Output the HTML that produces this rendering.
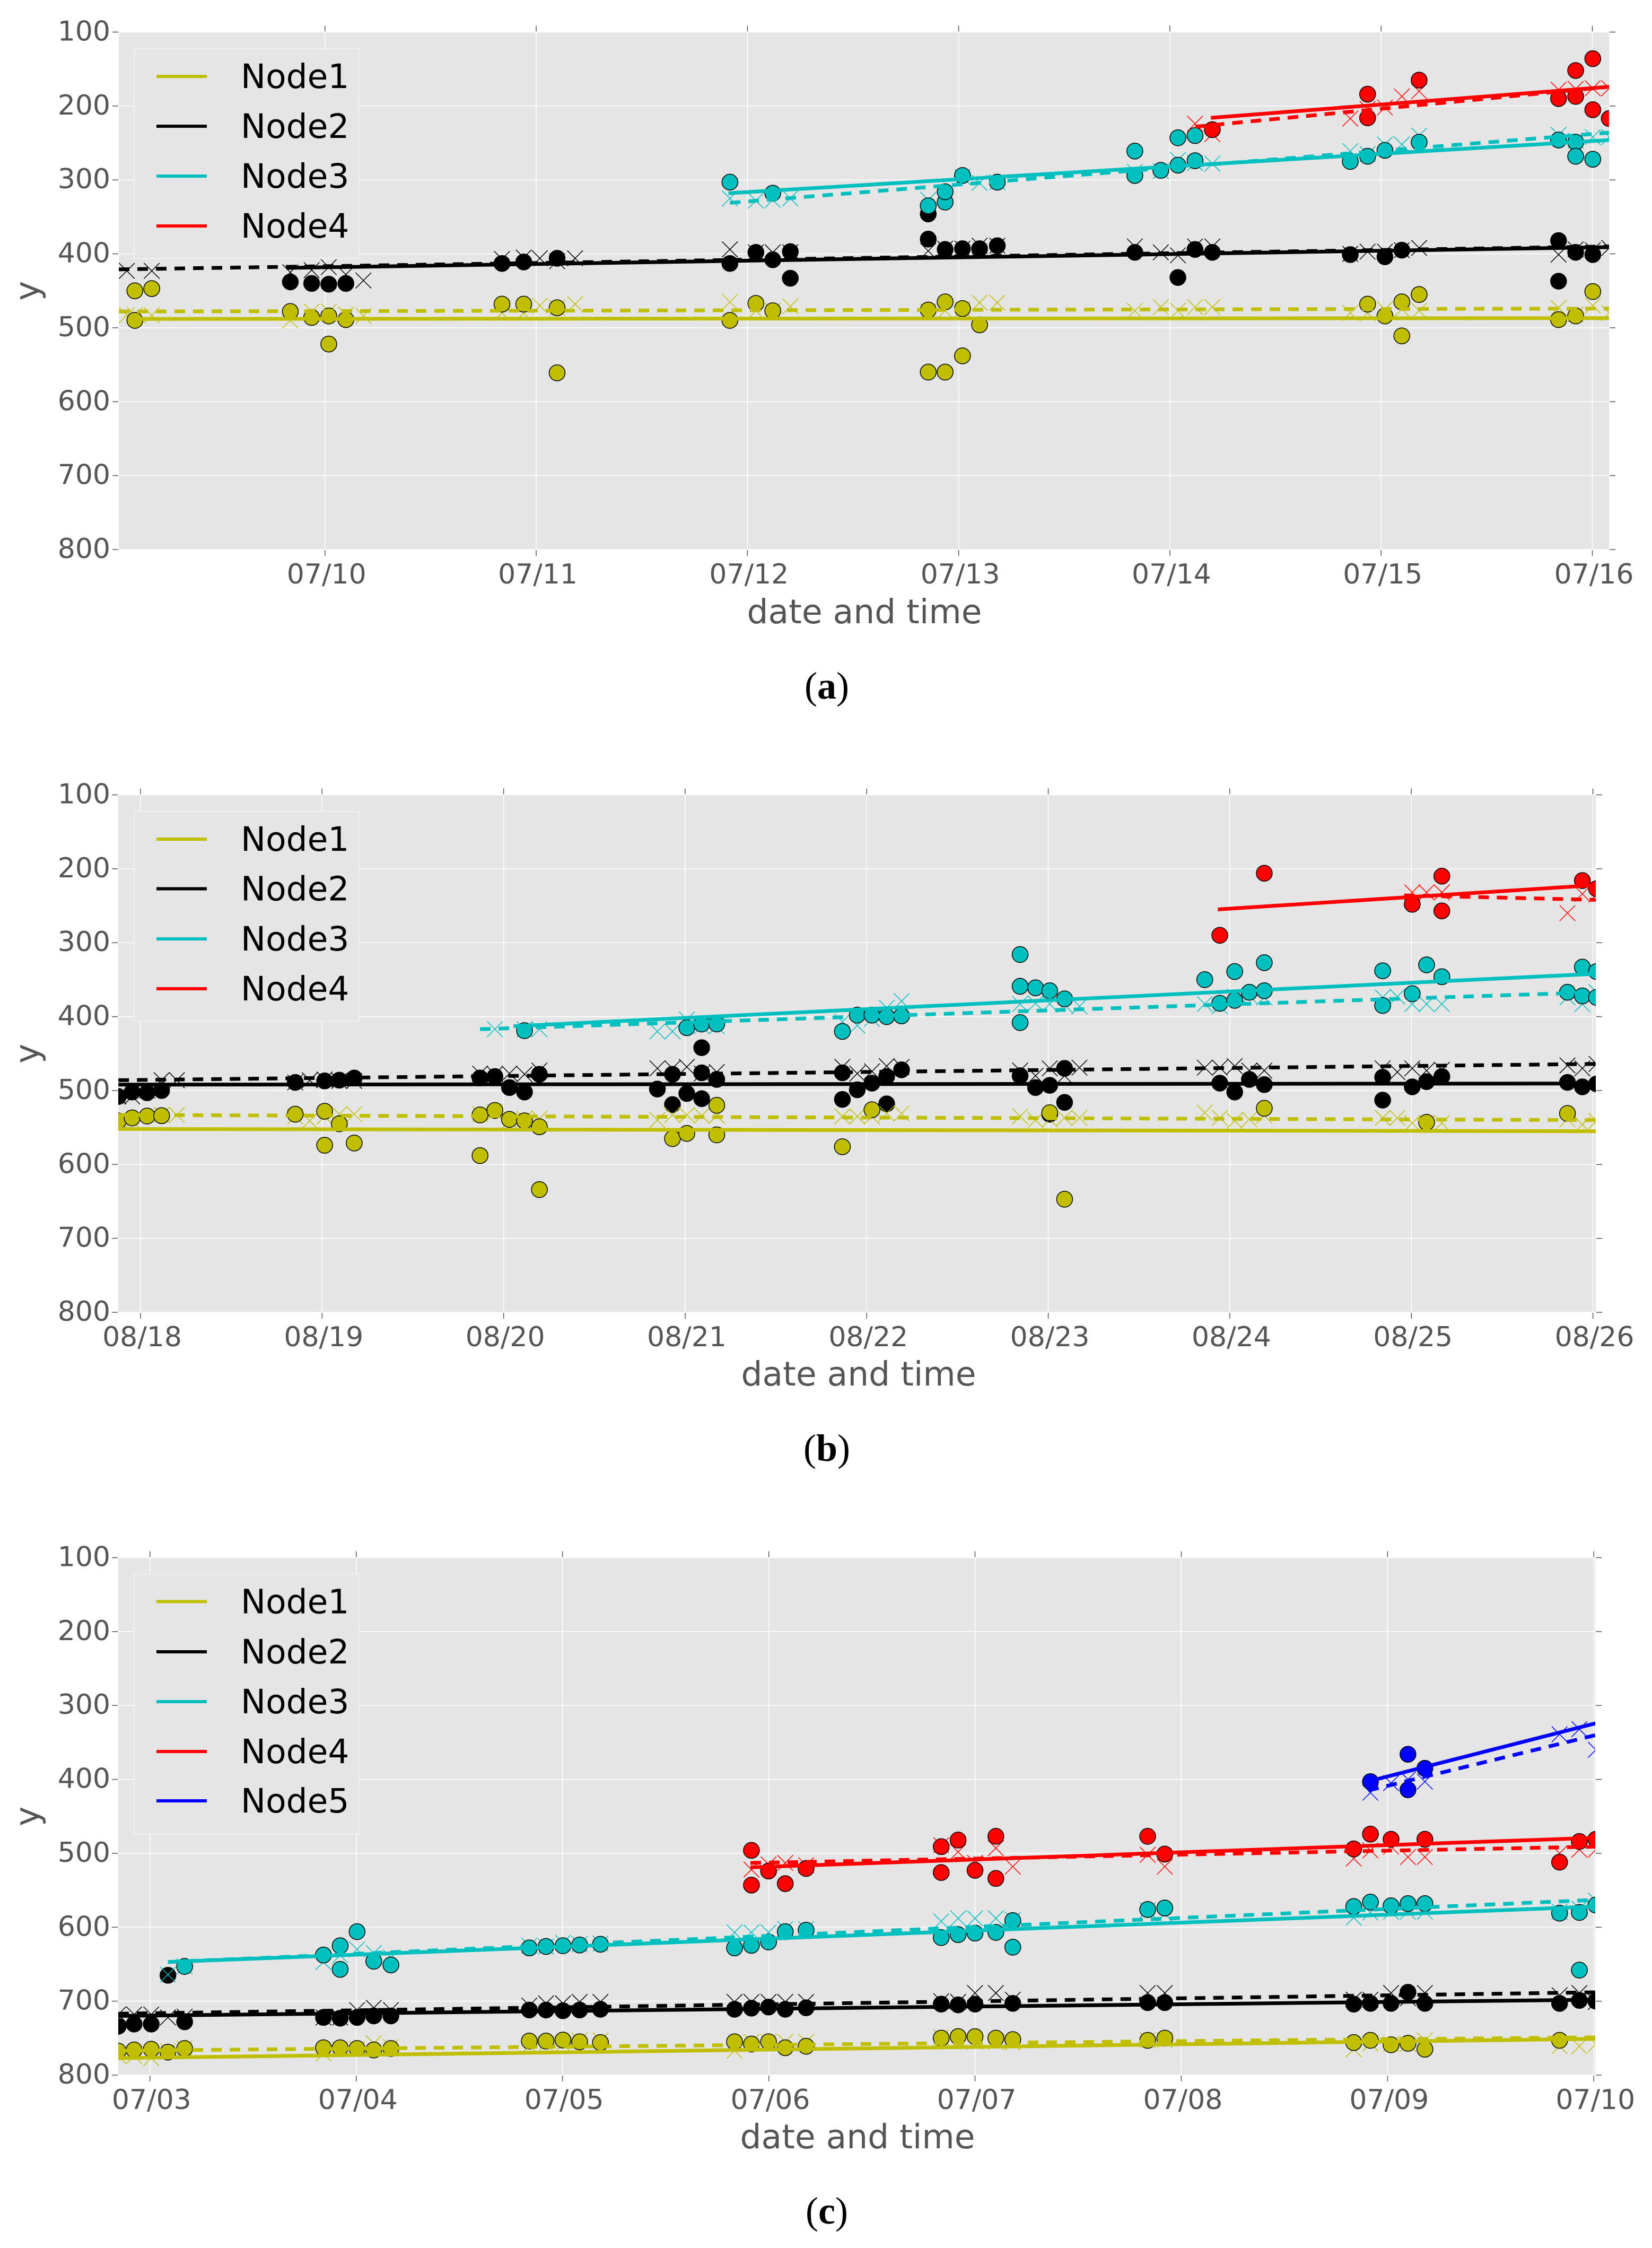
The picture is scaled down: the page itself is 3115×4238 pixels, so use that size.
<!DOCTYPE html>
<html lang="en">
<head>
<meta charset="utf-8">
<title>Node fits over time, panels a, b and c</title>
<style>
html,body{margin:0;padding:0;background:#fff}
svg{display:block}
text{font-family:"DejaVu Sans",sans-serif}
.caption{font-family:"Liberation Serif",serif;font-size:72px;fill:#000}
</style>
</head>
<body>
<svg id="figure" xmlns="http://www.w3.org/2000/svg" width="3115" height="4238" viewBox="0 0 3115 4238"></svg>
<script>
// Shared axis values
const yTickValues=[100,200,300,400,500,600,700,800];
const nodeLabels=['Node1','Node2','Node3','Node4','Node5'];
const xAxisTitle='date and time';
const yAxisTitle='y';

// Panel (a): x is in days after 07/10
const aDateLabels=['07/10','07/11','07/12','07/13','07/14','07/15','07/16'];
const aNode1Circles=[[-.9,450],[-.9,490],[-.82,447],[-.164,478],[-.063,486],[.018,484],[.018,522],[.099,489],[.838,468],[.941,468],[1.099,473],[1.099,561],[1.917,490],[2.04,467],[2.12,477],[2.856,476],[2.856,560],[2.936,465],[2.936,560],[3.018,474],[3.018,538],[3.099,496],[4.936,468],[5.018,484],[5.098,465],[5.098,511],[5.18,455],[5.84,489],[5.921,484],[6.002,451]];
const aNode1Crosses=[[-.938,483],[-.9,483],[-.82,483],[-.164,490],[-.063,478],[.018,478],[.099,482],[.182,484],[.838,480],[.941,480],[1.017,470],[1.099,473],[1.184,468],[1.917,465],[2.04,477],[2.12,477],[2.203,471],[2.856,478],[2.936,477],[3.018,475],[3.099,466],[3.183,466],[3.834,477],[3.957,472],[4.038,477],[4.119,472],[4.201,472],[4.854,480],[4.936,480],[5.018,475],[5.098,475],[5.18,477],[5.84,473],[5.921,482],[6.002,470],[6.08,480]];
const aNode2Circles=[[-.164,438],[-.063,440],[.018,441],[.099,440],[.838,413],[.941,411],[1.099,406],[1.917,413],[2.04,398],[2.12,408],[2.203,397],[2.203,433],[2.856,346],[2.856,380],[2.936,394],[3.018,393],[3.099,393],[3.183,389],[3.834,398],[4.038,432],[4.119,394],[4.201,398],[4.854,401],[5.018,404],[5.098,395],[5.84,382],[5.84,437],[5.921,398],[6.002,401]];
const aNode2Crosses=[[-.938,423],[-.82,423],[-.164,425],[-.063,422],[.018,418],[.099,428],[.182,436],[.838,407],[.941,405],[1.017,406],[1.099,410],[1.184,406],[1.917,394],[2.04,398],[2.12,398],[2.203,398],[2.856,396],[2.936,393],[3.018,393],[3.099,389],[3.183,389],[3.834,390],[3.957,398],[4.038,402],[4.119,390],[4.201,390],[4.854,400],[4.936,397],[5.018,397],[5.098,395],[5.18,392],[5.84,401],[5.921,394],[6.002,395],[6.08,392]];
const aNode3Circles=[[1.917,303],[2.12,318],[2.856,335],[2.936,330],[2.936,316],[3.018,294],[3.183,303],[3.834,261],[3.834,294],[3.957,287],[4.038,243],[4.038,280],[4.119,240],[4.119,274],[4.854,275],[4.936,268],[5.018,260],[5.18,249],[5.84,246],[5.921,249],[5.921,268],[6.002,272]];
const aNode3Crosses=[[1.917,325],[2.04,328],[2.12,327],[2.203,325],[2.856,327],[3.018,296],[3.099,304],[3.183,303],[3.834,289],[3.957,288],[4.038,273],[4.119,277],[4.201,278],[4.854,261],[4.936,265],[5.018,252],[5.098,252],[5.18,240],[5.84,239],[5.921,247],[6.002,242],[6.08,242]];
const aNode4Circles=[[4.201,232],[4.936,184],[4.936,216],[5.18,165],[5.84,190],[5.921,152],[5.921,187],[6.002,136],[6.002,205],[6.08,217]];
const aNode4Crosses=[[4.119,224],[4.201,238],[4.854,217],[4.936,204],[5.018,202],[5.098,187],[5.18,180],[5.84,178],[5.921,177],[6.002,176],[6.08,176]];
const aNode1Solid=[[-.885,488],[6.08,487]];
const aNode1Dashed=[[-.976,478],[6.08,474]];
const aNode2Solid=[[-.182,419],[6.08,391]];
const aNode2Dashed=[[-.976,421],[6.08,390]];
const aNode3Solid=[[1.91,318],[6.08,246]];
const aNode3Dashed=[[1.917,331],[6.08,236]];
const aNode4Solid=[[4.194,216],[6.08,174]];
const aNode4Dashed=[[4.12,228],[6.08,174]];

// Panel (b): x is in days after 08/18
const bDateLabels=['08/18','08/19','08/20','08/21','08/22','08/23','08/24','08/25','08/26'];
const bNode1Circles=[[-.122,541],[-.046,537],[.036,534.5],[.116,534],[.852,532],[1.014,528],[1.014,574],[1.095,545],[1.177,571],[1.87,533],[1.87,588],[1.952,527],[2.032,539],[2.115,541],[2.197,549],[2.197,634],[2.93,565],[3.009,558],[3.174,520],[3.174,560],[3.866,576],[4.029,526],[5.008,530],[5.09,647],[6.19,524],[7.084,543],[7.86,531]];
const bNode1Crosses=[[-.122,541],[-.046,541],[.116,533],[.2,533],[.852,535],[.932,541],[1.014,535],[1.095,532],[1.177,532],[1.87,532],[1.952,529],[2.032,541],[2.115,538],[2.197,538],[2.847,540],[2.93,533],[3.009,533],[3.091,534],[3.174,534],[3.866,535],[3.948,535],[4.029,535],[4.11,531],[4.192,531],[4.845,535],[4.93,540],[5.008,539],[5.09,537],[5.172,537],[5.862,530],[5.945,537],[6.027,541],[6.108,539],[6.19,534],[6.842,537],[6.923,537],[7.005,544],[7.084,544],[7.168,544],[7.86,539],[7.942,546],[8.02,541]];
const bNode2Circles=[[-.122,508],[-.046,502],[.036,503],[.116,500],[.852,489],[1.014,487],[1.095,486],[1.177,483],[1.87,483],[1.952,481],[2.032,496],[2.115,502],[2.197,478],[2.847,498],[2.93,478],[2.93,519],[3.009,504],[3.091,442],[3.091,476],[3.091,511],[3.174,485],[3.866,476],[3.866,512],[3.948,499],[4.029,490],[4.11,481],[4.11,518],[4.192,472],[4.845,480],[4.93,496],[5.008,493],[5.008,532],[5.09,470],[5.09,516],[5.945,490],[6.027,502],[6.108,485],[6.19,492],[6.842,482],[6.842,513],[7.005,495],[7.084,488],[7.168,481],[7.86,489],[7.942,495],[8.02,491]];
const bNode2Crosses=[[-.122,508],[-.046,508],[.036,500],[.116,486],[.2,486],[.852,489],[.932,486],[1.014,485],[1.095,487],[1.177,487],[1.87,477],[1.952,478],[2.032,477],[2.115,478],[2.197,473],[2.847,470],[2.93,470],[3.009,468],[3.091,477],[3.174,475],[3.866,468],[3.948,477],[4.029,474],[4.11,467],[4.192,468],[4.845,473],[4.93,480],[5.008,470],[5.09,480],[5.172,469],[5.862,469],[5.945,469],[6.027,467],[6.108,473],[6.19,473],[6.842,470],[6.923,475],[7.005,470],[7.084,473],[7.168,472],[7.86,466],[7.942,470],[8.02,464]];
const bNode3Circles=[[2.115,419],[3.009,415],[3.091,410],[3.174,410],[3.866,420],[3.948,398],[4.029,398],[4.11,400],[4.192,399],[4.845,316],[4.845,359],[4.845,408],[4.93,361],[5.008,365],[5.09,376],[5.862,350],[5.945,382],[6.027,339],[6.027,378],[6.108,367],[6.19,327],[6.19,365],[6.842,338],[6.842,385],[7.005,369],[7.084,330],[7.168,346],[7.86,367],[7.942,372],[7.942,333],[8.02,339],[8.02,374]];
const bNode3Crosses=[[1.952,417],[2.115,417],[2.197,417],[2.847,420],[2.93,420],[3.009,404],[3.091,413],[3.174,413],[3.866,407],[3.948,412],[4.029,403],[4.11,388],[4.192,379],[4.845,383],[4.93,382],[5.008,383],[5.09,384],[5.172,386],[5.862,383],[5.945,386],[6.027,373],[6.108,372],[6.19,374],[6.842,374],[6.923,373],[7.005,383],[7.084,383],[7.168,383],[7.86,374],[7.942,383],[8.02,367]];
const bNode4Circles=[[5.945,290],[6.19,206],[7.005,248],[7.168,210],[7.168,257],[7.942,216],[8.02,227]];
const bNode4Crosses=[[7.005,232],[7.084,232],[7.168,232],[7.86,260],[7.942,234],[8.02,235]];
const bNode1Solid=[[-.122,552],[8.02,555]];
const bNode1Dashed=[[-.122,533],[8.02,540]];
const bNode2Solid=[[-.122,492],[8.02,490.5]];
const bNode2Dashed=[[-.122,486],[8.02,464]];
const bNode3Solid=[[2.055,413],[8.02,342]];
const bNode3Dashed=[[1.87,417],[8.02,367]];
const bNode4Solid=[[5.934,255],[8.02,222]];
const bNode4Dashed=[[6.96,236],[8.02,242]];

// Panel (c): x is in days after 07/03
const cDateLabels=['07/03','07/04','07/05','07/06','07/07','07/08','07/09','07/10'];
const cNode1Circles=[[-.154,767.5],[-.077,766],[.006,765],[.087,769],[.168,764],[.841,763],[.922,763],[1.004,764],[1.085,766],[1.168,764],[1.839,754],[1.92,754],[2.002,752.6],[2.083,755],[2.184,756],[2.834,755],[2.916,758],[2.999,755],[3.08,763],[3.181,761],[3.836,750],[3.918,748],[4,748],[4.101,750],[4.183,752],[4.837,753],[4.92,750],[5.836,756],[5.917,753],[6.017,759],[6.099,757],[6.181,765],[6.834,753]];
const cNode1Crosses=[[-.154,774],[-.077,774],[.006,777],[.087,768],[.168,764],[.841,771],[.922,765],[1.004,765],[1.085,757],[1.168,762],[1.839,760],[1.92,758],[2.002,758],[2.083,753],[2.184,753],[2.834,767],[2.916,755],[2.999,755],[3.08,755],[3.181,755],[3.836,749],[3.918,753],[4,755],[4.101,755],[4.183,756],[4.837,753],[4.92,753],[5.836,765],[5.917,757],[6.017,758],[6.099,758],[6.181,753],[6.834,761],[6.93,761],[7.01,758]];
const cNode2Circles=[[-.154,734],[-.077,731],[.006,731],[.087,665],[.168,728],[.841,722],[.922,723],[1.004,722],[1.085,720],[1.168,720],[1.839,712],[1.92,712],[2.002,713],[2.083,712],[2.184,711],[2.834,711],[2.916,709.5],[2.999,708],[3.08,711],[3.181,709],[3.836,704],[3.918,705],[4,704],[4.183,703],[4.837,702],[4.92,702],[5.836,704],[5.917,703],[6.017,703],[6.099,688],[6.181,703],[6.834,703],[6.93,699],[7.01,700]];
const cNode2Crosses=[[-.154,718],[-.077,718],[.006,718],[.087,722],[.168,721],[.841,722],[.922,722],[1.004,712],[1.085,709],[1.168,712],[1.839,706],[1.92,703],[2.002,703],[2.083,701],[2.184,701],[2.834,701],[2.916,701],[2.999,701],[3.08,701],[3.181,701],[3.836,700],[3.918,701],[4,689],[4.101,689],[4.183,698],[4.837,689],[4.92,689],[5.836,698],[5.917,698],[6.017,689],[6.099,696],[6.181,689],[6.834,692],[6.93,689],[7.01,701]];
const cNode3Circles=[[.168,653],[.841,637.6],[.922,625],[.922,657],[1.004,606],[1.085,646],[1.168,651],[1.839,628],[1.92,626],[2.002,625],[2.083,624],[2.184,623],[2.834,628],[2.916,624.5],[2.999,620],[3.08,606],[3.181,604],[3.836,614],[3.918,610],[4,608],[4.101,607],[4.183,591],[4.183,627],[4.837,576],[4.92,574],[5.836,572],[5.917,566],[6.017,571],[6.099,568],[6.181,568],[6.834,581],[6.93,580],[6.93,658],[7.01,570]];
const cNode3Crosses=[[.087,664],[.168,653],[.841,647],[.922,638],[1.004,630],[1.085,635],[1.168,641],[1.839,625],[1.92,626],[2.002,621],[2.083,623],[2.184,622],[2.834,607],[2.916,607],[2.999,607],[3.08,602.5],[3.181,602.5],[3.836,592],[3.918,588],[4,588],[4.101,588],[4.183,590],[4.837,577],[4.92,582],[5.836,587],[5.917,580],[6.017,579],[6.099,579],[6.181,579],[6.834,579],[6.93,575],[7.01,564]];
const cNode4Circles=[[2.916,496],[2.916,543],[2.999,524],[3.08,541],[3.181,520.5],[3.836,491],[3.836,526],[3.918,482],[4,523],[4.101,477],[4.101,534],[4.837,477],[4.92,501],[5.836,494],[5.917,474],[6.017,481],[6.181,481],[6.834,512],[6.93,484],[7.01,481]];
const cNode4Crosses=[[2.916,522],[2.999,515],[3.08,513],[3.181,516],[3.836,489],[3.918,498],[4,513],[4.101,493],[4.183,518],[4.837,502],[4.92,518],[5.836,507],[5.917,496],[6.017,491],[6.099,505],[6.181,505],[6.834,500],[6.93,495],[7.01,495]];
const cNode5Circles=[[5.917,403],[6.099,366],[6.099,414],[6.181,385]];
const cNode5Crosses=[[5.917,418],[6.017,405],[6.099,400],[6.181,403],[6.834,339],[6.93,332],[7.01,360]];
const cNode1Solid=[[-.154,777],[7.01,751]];
const cNode1Dashed=[[-.154,767],[7.01,749]];
const cNode2Solid=[[-.154,720],[7.01,698]];
const cNode2Dashed=[[-.154,717],[7.01,688]];
const cNode3Solid=[[.087,647],[7.01,572]];
const cNode3Dashed=[[.087,647],[7.01,563]];
const cNode4Solid=[[2.911,519],[7.01,479]];
const cNode4Dashed=[[2.911,513],[7.01,491]];
const cNode5Solid=[[5.93,401],[7.01,324]];
const cNode5Dashed=[[5.907,415],[7.01,340]];

const SVG_NS='http://www.w3.org/2000/svg';
const figure=document.getElementById('figure');
const nodeColors=['#bfbf00','#000000','#00bfbf','#ff0000','#0000ff'];

function make(tag,attrs,parent){
  const el=document.createElementNS(SVG_NS,tag);
  for(const k in attrs){el.setAttribute(k,attrs[k]);}
  (parent||figure).appendChild(el);
  return el;
}

const panels=[
 {id:'a',left:224,right:3034,top:60.5,bottom:1036,xMin:-.976,xMax:6.079,labelDx:3,dates:aDateLabels,
  xTitleX:1630,xTitleY:1175,capX:1559,capY:1317,cap:'a',
  legend:{x0:253,x1:677,y0:92,y1:487,rows:[144,238,332,426]},
  markers:[{n:1,c:aNode2Circles,x:aNode2Crosses},{n:0,c:aNode1Circles,x:aNode1Crosses},{n:2,c:aNode3Circles,x:aNode3Crosses},{n:3,c:aNode4Circles,x:aNode4Crosses}],
  fits:[{n:0,s:aNode1Solid,d:aNode1Dashed},{n:1,s:aNode2Solid,d:aNode2Dashed},{n:2,s:aNode3Solid,d:aNode3Dashed},{n:3,s:aNode4Solid,d:aNode4Dashed}]},
 {id:'b',left:223,right:3009,top:1498.5,bottom:2474,xMin:-.1227,xMax:8.016,labelDx:3,dates:bDateLabels,
  xTitleX:1619,xTitleY:2612,capX:1559,capY:2754,cap:'b',
  legend:{x0:253,x1:677,y0:1530,y1:1925,rows:[1582,1675.5,1770,1864]},
  markers:[{n:1,c:bNode2Circles,x:bNode2Crosses},{n:0,c:bNode1Circles,x:bNode1Crosses},{n:2,c:bNode3Circles,x:bNode3Crosses},{n:3,c:bNode4Circles,x:bNode4Crosses}],
  fits:[{n:0,s:bNode1Solid,d:bNode1Dashed},{n:1,s:bNode2Solid,d:bNode2Dashed},{n:2,s:bNode3Solid,d:bNode3Dashed},{n:3,s:bNode4Solid,d:bNode4Dashed}]},
 {id:'c',left:223,right:3008,top:2936.5,bottom:3912,xMin:-.1538,xMax:7.007,labelDx:3,dates:cDateLabels,
  xTitleX:1617,xTitleY:4050,capX:1559,capY:4192,cap:'c',
  legend:{x0:253,x1:677,y0:2967.5,y1:3457,rows:[3019.4,3114,3208,3302,3395]},
  markers:[{n:1,c:cNode2Circles,x:cNode2Crosses},{n:0,c:cNode1Circles,x:cNode1Crosses},{n:2,c:cNode3Circles,x:cNode3Crosses},{n:3,c:cNode4Circles,x:cNode4Crosses},{n:4,c:cNode5Circles,x:cNode5Crosses}],
  fits:[{n:0,s:cNode1Solid,d:cNode1Dashed},{n:1,s:cNode2Solid,d:cNode2Dashed},{n:2,s:cNode3Solid,d:cNode3Dashed},{n:3,s:cNode4Solid,d:cNode4Dashed},{n:4,s:cNode5Solid,d:cNode5Dashed}]}
];

function drawPanel(p){
  const xScale=d=>p.left+(d-p.xMin)/(p.xMax-p.xMin)*(p.right-p.left);
  const yScale=v=>p.top+(v-100)/700*(p.bottom-p.top);

  const g=make('g',{});
  
  

  const defs=make('defs',{},g);
  const clip=make('clipPath',{id:'clip-'+p.id},defs);
  make('rect',{x:p.left,y:p.top,width:p.right-p.left,height:p.bottom-p.top},clip);

  const bg=make('rect',{x:p.left,y:p.top,width:p.right-p.left,height:p.bottom-p.top,fill:'#e5e5e5'},g);
  
  

  // horizontal grid, y ticks and y labels
  yTickValues.forEach(v=>{
    const y=yScale(v);
    const grid=make('line',{x1:p.left,x2:p.right,y1:y,y2:y,stroke:'#ffffff','stroke-width':1.5},g);
    
    
    const tl=make('line',{x1:p.left-12,x2:p.left-1,y1:y,y2:y,stroke:'#555555','stroke-width':1.5},g);
    
    
    const tr=make('line',{x1:p.right+1,x2:p.right+12,y1:y,y2:y,stroke:'#555555','stroke-width':1.5},g);
    
    
    const label=make('text',{x:208,y:y+16,'text-anchor':'end','font-size':52,fill:'#555555'},g);
    
    
    label.textContent=String(v);
  });

  // vertical grid, x ticks and x labels
  p.dates.forEach((date,i)=>{
    const x=xScale(i);
    const grid=make('line',{x1:x,x2:x,y1:p.top,y2:p.bottom,stroke:'#ffffff','stroke-width':1.5},g);
    
    
    const tt=make('line',{x1:x,x2:x,y1:p.top-12,y2:p.top-1,stroke:'#555555','stroke-width':1.5},g);
    
    
    const tb=make('line',{x1:x,x2:x,y1:p.bottom+1,y2:p.bottom+12,stroke:'#555555','stroke-width':1.5},g);
    
    
    const label=make('text',{x:x+p.labelDx,y:p.bottom+64,'text-anchor':'middle','font-size':52,fill:'#555555'},g);
    
    
    label.textContent=date;
  });

  // marks clipped to the axes
  const plot=make('g',{'clip-path':'url(#clip-'+p.id+')'},g);
  
  

  p.markers.forEach(m=>{
    const color=nodeColors[m.n];
    m.x.forEach(pt=>{
      const cx=xScale(pt[0]),cy=yScale(pt[1]),h=14.75;
      const mark=make('path',{d:'M'+(cx-h)+' '+(cy-h)+'L'+(cx+h)+' '+(cy+h)+'M'+(cx-h)+' '+(cy+h)+'L'+(cx+h)+' '+(cy-h),stroke:color,'stroke-width':1.5,fill:'none'},plot);
      
      
    });
    m.c.forEach(pt=>{
      const dot=make('circle',{cx:xScale(pt[0]),cy:yScale(pt[1]),r:15,fill:color,stroke:'#000000','stroke-width':1.5},plot);
      
      
    });
  });

  p.fits.forEach(f=>{
    const color=nodeColors[f.n];
    const solid=make('line',{x1:xScale(f.s[0][0]),y1:yScale(f.s[0][1]),x2:xScale(f.s[1][0]),y2:yScale(f.s[1][1]),stroke:color,'stroke-width':7},plot);
    
    
    const dashed=make('line',{x1:xScale(f.d[0][0]),y1:yScale(f.d[0][1]),x2:xScale(f.d[1][0]),y2:yScale(f.d[1][1]),stroke:color,'stroke-width':7,'stroke-dasharray':'20 15'},plot);
    
    
  });

  // legend
  const lg=make('g',{},g);
  
  
  const box=make('rect',{x:p.legend.x0,y:p.legend.y0,width:p.legend.x1-p.legend.x0,height:p.legend.y1-p.legend.y0,fill:'#e5e5e5',stroke:'#f4f4f4','stroke-width':1.5},lg);
  
  
  p.legend.rows.forEach((y,i)=>{
    const sw=make('line',{x1:295,x2:390,y1:y,y2:y,stroke:nodeColors[i],'stroke-width':6},lg);
    
    
    const tx=make('text',{x:454,y:y+22,'font-size':63,fill:'#000000'},lg);
    
    
    tx.textContent=nodeLabels[i];
  });

  // axis titles
  const xt=make('text',{x:p.xTitleX,y:p.xTitleY,'text-anchor':'middle','font-size':63,fill:'#555555'},g);
  
  
  xt.textContent=xAxisTitle;
  const yc=(p.top+p.bottom)/2;
  const yt=make('text',{x:0,y:0,'text-anchor':'middle','font-size':63,fill:'#555555',transform:'translate(73 '+yc+') rotate(-90)'},g);
  
  
  yt.textContent=yAxisTitle;

  // caption
  const cap=make('text',{x:p.capX,y:p.capY,'text-anchor':'middle','class':'caption'},g);
  
  
  const open=make('tspan',{},cap);
  open.textContent='(';
  const letter=make('tspan',{'font-weight':'bold'},cap);
  letter.textContent=p.cap;
  const close=make('tspan',{},cap);
  close.textContent=')';
}

panels.forEach(drawPanel);
</script>
</body>
</html>
